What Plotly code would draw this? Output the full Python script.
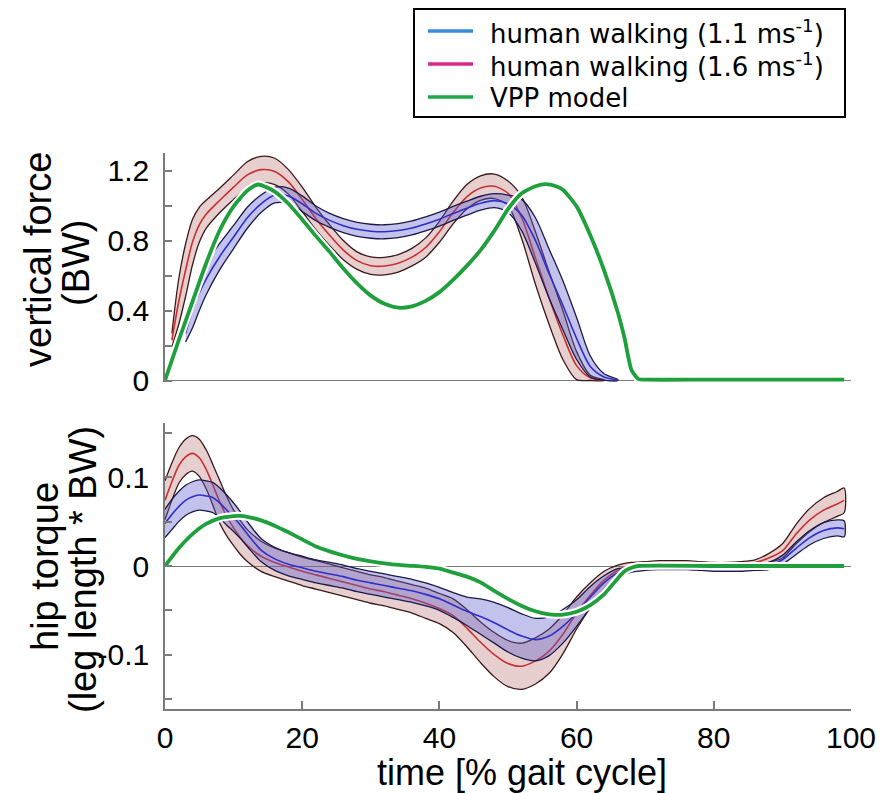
import plotly.graph_objects as go

# ---------------- data ----------------
# Top panel: vertical force (BW)
TOP_X_VPP = [0, 2, 4, 6, 8, 10, 12, 13.6, 16, 18, 20, 22, 24, 26, 28, 30, 32, 34, 36, 38, 40,
             42, 44, 46, 48, 50, 52, 54, 55.5, 57, 58, 60, 62, 64, 66, 67, 68, 69, 70, 80, 90, 99]
TOP_VPP = [0, 0.23, 0.45, 0.67, 0.86, 0.995, 1.085, 1.12, 1.08, 1.01, 0.92, 0.825, 0.735, 0.64,
           0.555, 0.485, 0.438, 0.416, 0.424, 0.455, 0.505, 0.575, 0.655, 0.745, 0.855, 0.98,
           1.07, 1.11, 1.122, 1.11, 1.09, 0.995, 0.83, 0.63, 0.39, 0.24, 0.06, 0.008, 0.005,
           0.005, 0.005, 0.005]

TOP_X_16 = [1, 2, 3, 4, 5, 6, 8, 10, 12, 14, 16, 18, 20, 22, 24, 26, 28, 30, 32, 34, 36, 38,
            40, 42, 44, 46, 48, 50, 52, 54, 56, 58, 60, 62, 64]
TOP_MEAN_16 = [0.23, 0.45, 0.63, 0.79, 0.89, 0.95, 1.03, 1.105, 1.175, 1.205, 1.195, 1.135,
               1.035, 0.925, 0.83, 0.745, 0.685, 0.656, 0.654, 0.67, 0.705, 0.76, 0.85, 0.96,
               1.05, 1.10, 1.11, 1.07, 0.93, 0.70, 0.47, 0.26, 0.085, 0.015, 0.002]
TOP_SD_16 = [0.04, 0.13, 0.15, 0.13, 0.10, 0.08, 0.07, 0.07, 0.075, 0.076, 0.075, 0.07, 0.07,
             0.065, 0.06, 0.055, 0.05, 0.05, 0.05, 0.05, 0.05, 0.055, 0.06, 0.065, 0.07, 0.07,
             0.07, 0.07, 0.12, 0.15, 0.15, 0.14, 0.08, 0.015, 0.002]

TOP_X_11 = [3, 4, 5, 6, 8, 10, 12, 14, 16, 18, 20, 22, 24, 26, 28, 30, 32, 34, 36, 38, 40, 42,
            44, 46, 48, 50, 52, 54, 56, 58, 60, 62, 64, 66]
TOP_MEAN_11 = [0.27, 0.40, 0.50, 0.58, 0.71, 0.82, 0.93, 1.01, 1.06, 1.055, 1.01, 0.955, 0.915,
               0.885, 0.864, 0.853, 0.85, 0.857, 0.872, 0.895, 0.922, 0.955, 0.985, 1.013, 1.028,
               1.01, 0.945, 0.80, 0.61, 0.43, 0.24, 0.08, 0.02, 0.003]
TOP_SD_11 = [0.05, 0.10, 0.10, 0.09, 0.075, 0.066, 0.06, 0.05, 0.045, 0.045, 0.045, 0.042, 0.04,
             0.04, 0.04, 0.04, 0.04, 0.04, 0.04, 0.04, 0.04, 0.04, 0.04, 0.04, 0.04, 0.05, 0.09,
             0.13, 0.14, 0.14, 0.12, 0.06, 0.018, 0.003]

# Bottom panel: hip torque (leg length * BW)
BOT_X_VPP = [0, 2, 4, 6, 8, 10, 11, 12, 14, 16, 18, 20, 22, 24, 26, 28, 30, 32, 34, 36, 38, 40,
             42, 44, 46, 48, 50, 52, 54, 56, 57, 58, 60, 62, 64, 66, 67, 68, 69, 80, 90, 99]
BOT_VPP = [0, 0.02, 0.036, 0.0475, 0.054, 0.0563, 0.0565, 0.0555, 0.0515, 0.0455, 0.038, 0.030,
           0.022, 0.0165, 0.0118, 0.008, 0.0053, 0.003, 0.0012, 0.0002, -0.001, -0.003, -0.0075,
           -0.012, -0.0185, -0.028, -0.037, -0.045, -0.051, -0.0545, -0.055, -0.0548, -0.0515,
           -0.044, -0.032, -0.014, -0.006, -0.002, 0, 0, 0, 0]

BOT_X = [0, 1, 2, 3, 4, 5, 6, 7, 8, 9, 10, 11, 12, 14, 16, 18, 20, 22, 24, 26, 28, 30, 32, 34,
         36, 38, 40, 42, 44, 46, 48, 50, 52, 54, 56, 58, 60, 62, 64, 66, 68, 70, 72, 74, 76, 78,
         80, 82, 84, 86, 88, 90, 92, 94, 96, 98, 99]
BOT_MEAN_16 = [0.074, 0.095, 0.113, 0.123, 0.127, 0.122, 0.109, 0.091, 0.072, 0.056, 0.043,
               0.032, 0.023, 0.011, 0.004, -0.001, -0.006, -0.010, -0.014, -0.018, -0.022,
               -0.026, -0.029, -0.033, -0.037, -0.042, -0.048, -0.056, -0.070, -0.086, -0.100,
               -0.110, -0.113, -0.107, -0.096, -0.077, -0.053, -0.033, -0.016, -0.005, 0.0,
               0.002, 0.003, 0.003, 0.003, 0.002, 0.001, 0.001, 0.002, 0.004, 0.009, 0.017,
               0.036, 0.052, 0.063, 0.070, 0.074]
BOT_SD_16 = [0.022, 0.021, 0.02, 0.02, 0.02, 0.021, 0.022, 0.023, 0.024, 0.022, 0.02, 0.019,
             0.018, 0.017, 0.016, 0.016, 0.016, 0.016, 0.016, 0.016, 0.016, 0.016, 0.016, 0.016,
             0.016, 0.017, 0.017, 0.019, 0.021, 0.023, 0.025, 0.026, 0.026, 0.026, 0.025, 0.022,
             0.018, 0.014, 0.01, 0.006, 0.004, 0.003, 0.003, 0.003, 0.003, 0.003, 0.003, 0.003,
             0.003, 0.003, 0.005, 0.008, 0.011, 0.013, 0.014, 0.014, 0.014]
BOT_MEAN_11 = [0.048, 0.058, 0.067, 0.074, 0.078, 0.080, 0.079, 0.077, 0.071, 0.063, 0.055,
               0.046, 0.036, 0.018, 0.008, 0.002, -0.002, -0.006, -0.009, -0.012, -0.016,
               -0.019, -0.022, -0.025, -0.028, -0.032, -0.037, -0.044, -0.051, -0.057, -0.064,
               -0.072, -0.079, -0.083, -0.079, -0.068, -0.053, -0.035, -0.019, -0.008, -0.004,
               -0.002, -0.001, -0.001, -0.001, -0.002, -0.003, -0.003, -0.003, -0.002, 0.0,
               0.007, 0.020, 0.032, 0.040, 0.043, 0.042]
BOT_SD_11 = [0.016, 0.017, 0.017, 0.017, 0.017, 0.017, 0.017, 0.017, 0.017, 0.017, 0.016,
             0.015, 0.014, 0.013, 0.013, 0.013, 0.013, 0.013, 0.013, 0.013, 0.013, 0.013, 0.013,
             0.013, 0.013, 0.013, 0.013, 0.014, 0.016, 0.020, 0.023, 0.025, 0.025, 0.024, 0.022,
             0.019, 0.015, 0.012, 0.008, 0.005, 0.003, 0.003, 0.003, 0.003, 0.003, 0.003, 0.003,
             0.003, 0.003, 0.003, 0.004, 0.005, 0.007, 0.008, 0.009, 0.009, 0.009]

X_TICKS = [0, 20, 40, 60, 80, 100]
TOP_TICKS = [0, 0.4, 0.8, 1.2]
TOP_TICK_TEXT = ["0", "0.4", "0.8", "1.2"]
BOT_TICKS = [-0.1, 0, 0.1]
BOT_TICK_TEXT = ["-0.1", "0", "0.1"]

LEGEND_NAMES = ["human walking (1.1 ms<sup>-1</sup>)", "human walking (1.6 ms<sup>-1</sup>)",
                "VPP model"]
LEGEND_COLORS = ["#3a8bd8", "#d8288c", "#1fa84a"]

# ---------------- styles ----------------
RED_FILL = "rgba(175,95,95,0.30)"
RED_EDGE = "#3c1818"
RED_MEAN = "#c83030"
BLUE_FILL = "rgba(95,95,205,0.38)"
BLUE_EDGE = "#1a1a4a"
BLUE_MEAN = "#2f2fc8"
GREEN = "#1fa03c"
AXIS_GRAY = "#7a7a7a"
FONT = "Liberation Sans, Arial, sans-serif"
W, H = 883, 793

fig = go.Figure()


def add_band(xs, mean, sd, xa, ya, fill, edge, meancol, clip0=False):
    up = [m + s for m, s in zip(mean, sd)]
    lo = [m - s for m, s in zip(mean, sd)]
    if clip0:
        lo = [max(0.0, v) for v in lo]
    fig.add_trace(go.Scatter(x=list(xs) + list(xs)[::-1], y=up + lo[::-1], fill="toself",
                             fillcolor=fill, line=dict(color=edge, width=1.3, shape="spline",
                                                       smoothing=0.8),
                             mode="lines", showlegend=False, hoverinfo="skip",
                             xaxis=xa, yaxis=ya))
    fig.add_trace(go.Scatter(x=xs, y=mean, mode="lines",
                             line=dict(color=meancol, width=1.6, shape="spline", smoothing=0.8),
                             showlegend=False, hoverinfo="skip", xaxis=xa, yaxis=ya))


def add_vpp(xs, ys, xa, ya):
    fig.add_trace(go.Scatter(x=xs, y=ys, mode="lines",
                             line=dict(color="white", width=8, shape="spline", smoothing=0.6),
                             showlegend=False, hoverinfo="skip", xaxis=xa, yaxis=ya))
    fig.add_trace(go.Scatter(x=xs, y=ys, mode="lines",
                             line=dict(color=GREEN, width=3.8, shape="spline", smoothing=0.6),
                             showlegend=False, hoverinfo="skip", xaxis=xa, yaxis=ya))


# top panel
add_band(TOP_X_16, TOP_MEAN_16, TOP_SD_16, "x", "y", RED_FILL, RED_EDGE, RED_MEAN, clip0=True)
add_band(TOP_X_11, TOP_MEAN_11, TOP_SD_11, "x", "y", BLUE_FILL, BLUE_EDGE, BLUE_MEAN, clip0=True)
add_vpp(TOP_X_VPP, TOP_VPP, "x", "y")
# bottom panel
add_band(BOT_X, BOT_MEAN_16, BOT_SD_16, "x2", "y2", RED_FILL, RED_EDGE, RED_MEAN)
add_band(BOT_X, BOT_MEAN_11, BOT_SD_11, "x2", "y2", BLUE_FILL, BLUE_EDGE, BLUE_MEAN)
add_vpp(BOT_X_VPP, BOT_VPP, "x2", "y2")

XDOM = [165 / W, 851 / W]
TICKFONT = dict(family=FONT, size=30, color="black")

fig.update_layout(
    width=W, height=H,
    margin=dict(l=0, r=0, t=0, b=0, autoexpand=False),
    paper_bgcolor="white", plot_bgcolor="white",
    showlegend=False,
    xaxis=dict(domain=XDOM, range=[0, 100], anchor="y", showline=False, showgrid=False,
               zeroline=False, showticklabels=False, ticks="", automargin=False),
    yaxis=dict(domain=[(H - 382.25) / H, (H - 152.5) / H], range=[-0.01, 1.303],
               anchor="x", showline=True, linecolor=AXIS_GRAY, linewidth=1.5, automargin=False,
               showgrid=False, zeroline=True, zerolinecolor=AXIS_GRAY, zerolinewidth=1.2,
               tickmode="array", tickvals=TOP_TICKS, ticktext=TOP_TICK_TEXT,
               ticks="inside", ticklen=7, tickcolor=AXIS_GRAY, tickwidth=1.5,
               minor=dict(dtick=0.2, tick0=0, ticks="inside", ticklen=7, tickcolor=AXIS_GRAY,
                          tickwidth=1.5, showgrid=False),
               tickfont=TICKFONT, ticklabelstandoff=8),
    xaxis2=dict(domain=XDOM, range=[0, 100], anchor="y2", showline=True, linecolor=AXIS_GRAY,
                linewidth=1.5, showgrid=False, zeroline=False, automargin=False,
                tickmode="array", tickvals=X_TICKS, ticks="inside", ticklen=8,
                tickcolor=AXIS_GRAY, tickwidth=1.5, tickfont=TICKFONT, ticklabelstandoff=1),
    yaxis2=dict(domain=[(H - 708.8) / H, (H - 423.2) / H], range=[-0.161, 0.161],
                anchor="x2", showline=True, linecolor=AXIS_GRAY, linewidth=1.5,
                automargin=False,
                showgrid=False, zeroline=True, zerolinecolor=AXIS_GRAY, zerolinewidth=1.2,
                tickmode="array", tickvals=BOT_TICKS, ticktext=BOT_TICK_TEXT,
                ticks="inside", ticklen=7, tickcolor=AXIS_GRAY, tickwidth=1.5,
                minor=dict(dtick=0.05, tick0=0, ticks="inside", ticklen=7, tickcolor=AXIS_GRAY,
                           tickwidth=1.5, showgrid=False),
                tickfont=TICKFONT, ticklabelstandoff=8),
)

# ---------------- legend (drawn in paper space) ----------------
fig.add_shape(type="rect", xref="paper", yref="paper", x0=414 / W, x1=845 / W,
              y0=1 - 117 / H, y1=1 - 9 / H, line=dict(color="black", width=2),
              fillcolor="white", layer="above")
LEG_ROWS = [31, 64, 97]
for name, col, ry in zip(LEGEND_NAMES, LEGEND_COLORS, LEG_ROWS):
    fig.add_shape(type="line", xref="paper", yref="paper", x0=428 / W, x1=473 / W,
                  y0=1 - ry / H, y1=1 - ry / H, line=dict(color=col, width=3.5), layer="above")
    fig.add_annotation(text=name, xref="paper", yref="paper", x=488 / W, y=1 - (ry + 1) / H,
                       xanchor="left", yanchor="middle", showarrow=False,
                       font=dict(family="DejaVu Sans", size=26, color="black"))

# ---------------- axis titles ----------------
TITLEFONT = dict(family=FONT, size=38, color="black")
Y_TITLES = [("vertical force", 38, 260), ("(BW)", 76, 263),
            ("hip torque", 45, 567), ("(leg length * BW)", 83, 570)]
for txt, px, py in Y_TITLES:
    fig.add_annotation(text=txt, textangle=-90, xref="paper", yref="paper",
                       x=px / W, y=1 - py / H, xanchor="center", yanchor="middle",
                       showarrow=False, font=TITLEFONT)
fig.add_annotation(text="time [% gait cycle]", xref="paper", yref="paper",
                   x=522 / W, y=1 - 772 / H, xanchor="center", yanchor="middle",
                   showarrow=False, font=dict(family=FONT, size=36, color="black"))

fig.write_html("out.html")
